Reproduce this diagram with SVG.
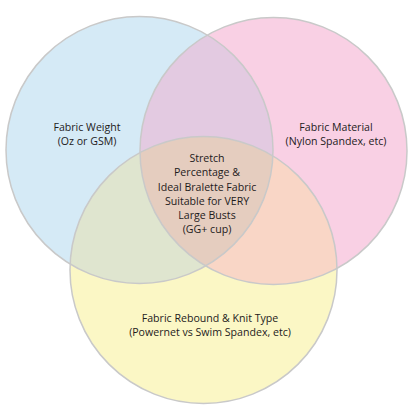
<svg xmlns="http://www.w3.org/2000/svg" width="417" height="410" viewBox="0 0 417 410">
<style>
text{font-family:"Open Sans","Liberation Sans",sans-serif;font-size:10.6px;fill:#1e1b1c;text-anchor:middle}
.ol{fill:none;stroke:#c9c9c9;stroke-width:1.5}
</style>
<defs>
<clipPath id="cBlue"><circle cx="139.5" cy="150" r="133.5"/></clipPath>
<clipPath id="cPink"><circle cx="273.5" cy="151" r="133.5"/></clipPath>
</defs>
<rect width="417" height="410" fill="#fff"/>
<g id="blue"><circle cx="139.5" cy="150" r="133.5" fill="#d5eaf6"/></g>
<g id="pink"><circle cx="273.5" cy="151" r="133.5" fill="#f9d0e4"/></g>
<g id="yellow"><circle cx="203.5" cy="270" r="133.5" fill="#fbf7c5"/></g>
<g id="overlaps">
<circle cx="273.5" cy="151" r="133.5" fill="#e3cae1" clip-path="url(#cBlue)"/>
<circle cx="203.5" cy="270" r="133.5" fill="#dfe5cf" clip-path="url(#cBlue)"/>
<circle cx="203.5" cy="270" r="133.5" fill="#f9d6c6" clip-path="url(#cPink)"/>
<g clip-path="url(#cPink)"><circle cx="203.5" cy="270" r="133.5" fill="#e5cdbf" clip-path="url(#cBlue)"/></g>
</g>
<g id="outlines">
<circle class="ol" cx="139.5" cy="150" r="133.5"/>
<circle class="ol" cx="273.5" cy="151" r="133.5"/>
<circle class="ol" cx="203.5" cy="270" r="133.5"/>
</g>
<g id="label-weight">
<text x="87" y="130.5">Fabric Weight</text>
<text x="87" y="144.5">(Oz or GSM)</text>
</g>
<g id="label-material">
<text x="336" y="130.5">Fabric Material</text>
<text x="336" y="144.5">(Nylon Spandex, etc)</text>
</g>
<g id="label-center">
<text x="207" y="161.5">Stretch</text>
<text x="207" y="176">Percentage &amp;</text>
<text x="207" y="190.5">Ideal Bralette Fabric</text>
<text x="207" y="204.5">Suitable for VERY</text>
<text x="207" y="218.5">Large Busts</text>
<text x="207" y="233">(GG+ cup)</text>
</g>
<g id="label-rebound">
<text x="210" y="321.5">Fabric Rebound &amp; Knit Type</text>
<text x="210" y="335.5">(Powernet vs Swim Spandex, etc)</text>
</g>
</svg>
